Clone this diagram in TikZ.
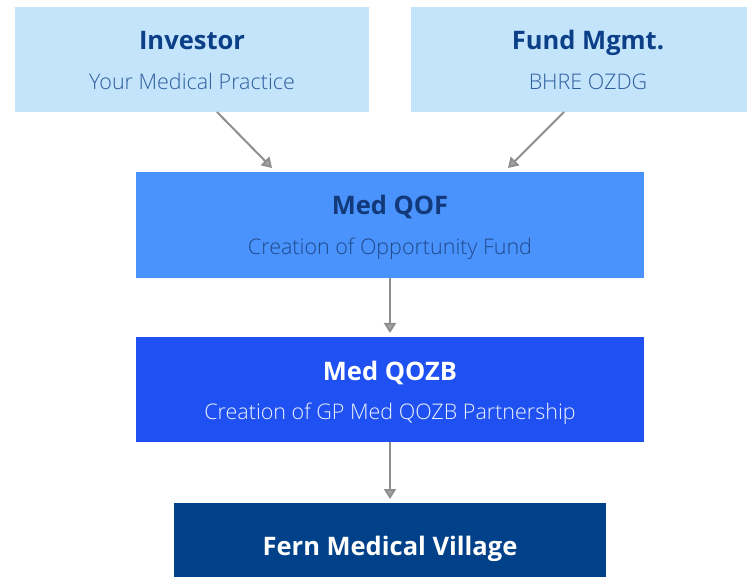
\documentclass[tikz,border=0pt]{standalone}
\usepackage{fontspec}
\setmainfont{Open Sans}
\newfontfamily\lightfont{Open Sans Light}
\usetikzlibrary{arrows.meta}
\definecolor{lightbox}{HTML}{C4E4FB}
\definecolor{qofbox}{HTML}{4B93FC}
\definecolor{qozbbox}{HTML}{1F51F2}
\definecolor{fernbox}{HTML}{01418A}
\definecolor{darktitle}{HTML}{0B3F87}
\definecolor{darksub}{HTML}{2D5E9E}
\definecolor{qoftitle}{HTML}{12397A}
\definecolor{qofsub}{HTML}{1E4A8C}
\definecolor{arrowgray}{HTML}{8E8E8E}
\tikzset{
  box/.style={rectangle, inner sep=0pt, outer sep=0pt, draw=none},
  ttl/.style={inner sep=0pt, anchor=base, font=\bfseries\fontsize{25.5}{30}\selectfont},
  sub/.style={inner sep=0pt, anchor=base, font=\lightfont\fontsize{21.5}{25}\selectfont},
  conn/.style={draw=arrowgray, line width=2pt, -{Triangle[length=10pt,width=12pt,fill=arrowgray!80]}},
}
\begin{document}
\begin{tikzpicture}[x=1pt,y=-1pt]
\useasboundingbox (0,0) rectangle (747,577);
\begin{scope}
\clip (0,0) rectangle (747,577);
% boxes
\node[box, fill=lightbox, minimum width=354pt, minimum height=105pt] (inv) at (192,59.5) {};
\node[box, fill=lightbox, minimum width=354pt, minimum height=105pt] (fund) at (588,59.5) {};
\node[box, fill=qofbox, minimum width=508pt, minimum height=106pt] (qof) at (390,225) {};
\node[box, fill=qozbbox, minimum width=508pt, minimum height=105pt] (qozb) at (390,389.5) {};
\node[box, fill=fernbox, minimum width=432pt, minimum height=84pt] (fern) at (390,545) {};
\end{scope}
% texts
\node[ttl, text=darktitle] (invt) at (192,50) {Investor};
\node[sub, text=darksub] (invs) at (192,89.5) {Your Medical Practice};
\node[ttl, text=darktitle] (fundt) at (588,50) {Fund Mgmt.};
\node[sub, text=darksub] (funds) at (588,89.5) {BHRE OZDG};
\node[ttl, text=qoftitle] (qoft) at (390,215) {Med QOF};
\node[sub, text=qofsub] (qofs) at (390,254.5) {Creation of Opportunity Fund};
\node[ttl, text=white] (qozbt) at (390,380) {Med QOZB};
\node[sub, text=white!92!qozbbox] (qozbs) at (390,419.5) {Creation of GP Med QOZB Partnership};
\node[ttl, text=white] (fernt) at (390,555) {Fern Medical Village};
% connectors
\draw[conn] ([xshift=202pt]inv.south west) -- ([xshift=136pt,yshift=4pt]qof.north west);
\draw[conn] ([xshift=153pt]fund.south west) -- ([xshift=372pt,yshift=4pt]qof.north west);
\draw[conn] (qof.south) -- ([yshift=4pt]qozb.north);
\draw[conn] (qozb.south) -- ([yshift=4pt]fern.north);
\end{tikzpicture}
\end{document}
